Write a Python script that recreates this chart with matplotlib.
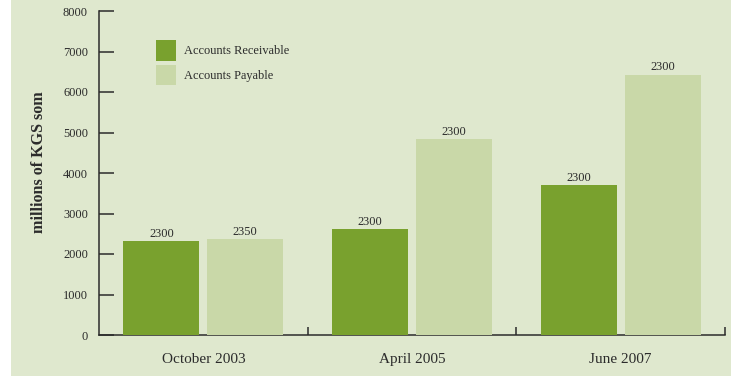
import numpy as np
import matplotlib
matplotlib.use("Agg")
import matplotlib.pyplot as plt
from matplotlib.patches import Rectangle

# data
periods = ["October 2003", "April 2005", "June 2007"]
receivable = [2320, 2620, 3705]
payable = [2370, 4840, 6430]
receivable_labels = ["2300", "2300", "2300"]
payable_labels = ["2350", "2300", "2300"]
yticks = [0, 1000, 2000, 3000, 4000, 5000, 6000, 7000, 8000]

bg = "#dfe8ce"
dark = "#79a12e"
light = "#c9d8a8"
ink = "#2b2b2b"

plt.rcParams["font.family"] = ["Liberation Serif", "DejaVu Serif"]

W, H = 731, 376
fig = plt.figure(figsize=(W / 100, H / 100), dpi=100, facecolor="white")
fig.patches.append(Rectangle((11 / W, 0), 1 - 11 / W, 1, transform=fig.transFigure,
                             facecolor=bg, edgecolor="none", zorder=-10))

ax = fig.add_axes([99 / W, 1 - 335 / H, 626 / W, 324 / H])
ax.set_facecolor("none")

x = np.arange(len(periods))
w = 0.364
off = 0.201
b1 = ax.bar(x - off, receivable, w, color=dark, zorder=3, label="Accounts Receivable")
b2 = ax.bar(x + off, payable, w, color=light, zorder=3, label="Accounts Payable")
ax.bar_label(b1, labels=receivable_labels, padding=1, fontsize=8.9, color=ink)
ax.bar_label(b2, labels=payable_labels, padding=1, fontsize=8.9, color=ink)

ax.set_xlim(-0.5, 2.5)
ax.set_ylim(0, 8000)

for s in ["top", "right"]:
    ax.spines[s].set_visible(False)
for s in ["left", "bottom"]:
    ax.spines[s].set_color(ink)
    ax.spines[s].set_linewidth(1.1)

ax.set_yticks(yticks)
ax.set_yticklabels([str(v) for v in yticks])
ax.tick_params(axis="y", direction="in", length=11, width=1.1, color=ink,
               pad=8, labelsize=8.9, labelcolor=ink)

ax.set_xticks(x)
ax.set_xticklabels(periods)
ax.tick_params(axis="x", which="major", length=0, pad=13, labelsize=11, labelcolor=ink)
ax.set_xticks([0.5, 1.5, 2.5], minor=True)
ax.tick_params(axis="x", which="minor", direction="in", length=6, width=1.1, color=ink)

ax.set_ylabel("millions of KGS som", fontsize=11.6, fontweight="bold", color=ink)
ax.yaxis.set_label_coords(-0.083, 0.534)

ax.legend(loc="upper left", bbox_to_anchor=(0.091, 0.910), frameon=False,
          borderpad=0, borderaxespad=0, handlelength=1.65, handleheight=2.17,
          handletextpad=0.58, labelspacing=0.325, fontsize=8.9, labelcolor=ink)

fig.savefig("out.png", dpi=100, facecolor=fig.get_facecolor())
